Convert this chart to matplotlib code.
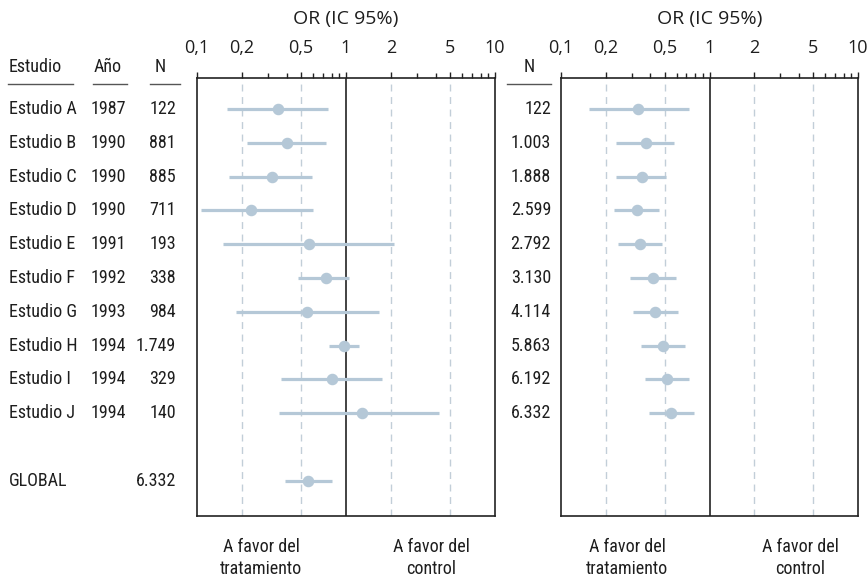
import matplotlib
matplotlib.use("Agg")
import matplotlib.pyplot as plt
import matplotlib.transforms as mtransforms
from matplotlib.lines import Line2D
from matplotlib.ticker import FixedLocator, NullFormatter, LogLocator
from matplotlib import font_manager as fm

# ---------------- data ----------------
studies = ["Estudio A", "Estudio B", "Estudio C", "Estudio D", "Estudio E",
           "Estudio F", "Estudio G", "Estudio H", "Estudio I", "Estudio J"]
years = ["1987", "1990", "1990", "1990", "1991", "1992", "1993", "1994", "1994", "1994"]
n_left = ["122", "881", "885", "711", "193", "338", "984", "1.749", "329", "140"]
or_left = [0.35, 0.40, 0.32, 0.23, 0.565, 0.73, 0.55, 0.97, 0.80, 1.29]
lo_left = [0.158, 0.218, 0.164, 0.106, 0.149, 0.474, 0.182, 0.773, 0.364, 0.357]
hi_left = [0.754, 0.734, 0.594, 0.604, 2.10, 1.05, 1.66, 1.23, 1.75, 4.19]

global_label = "GLOBAL"
global_n = "6.332"
global_or = 0.56
global_lo = 0.39
global_hi = 0.80

n_right = ["122", "1.003", "1.888", "2.599", "2.792", "3.130", "4.114", "5.863", "6.192", "6.332"]
or_right = [0.33, 0.372, 0.353, 0.323, 0.339, 0.417, 0.431, 0.486, 0.515, 0.551]
lo_right = [0.154, 0.236, 0.233, 0.229, 0.241, 0.293, 0.305, 0.344, 0.366, 0.390]
hi_right = [0.724, 0.579, 0.512, 0.459, 0.481, 0.592, 0.614, 0.687, 0.731, 0.787]

tick_vals = [0.1, 0.2, 0.5, 1, 2, 5, 10]
tick_labels = ["0,1", "0,2", "0,5", "1", "2", "5", "10"]
grid_vals = [0.2, 0.5, 2, 5]
axis_title = "OR (IC 95%)"
left_note = "A favor del\ntratamiento"
right_note = "A favor del\ncontrol"

# ---------------- fonts ----------------
def find_condensed():
    prefs = ['Liberation Sans Narrow', 'Roboto Condensed', 'Open Sans Condensed',
             'Noto Sans Condensed', 'DejaVu Sans Condensed', 'Arial Narrow']
    names = {f.name for f in fm.fontManager.ttflist}
    for p in prefs:
        if p in names:
            return fm.FontProperties(family=p)
    for f in fm.fontManager.ttflist:
        if f.style == 'normal' and f.weight in (400, 'normal', 'regular') and \
                ('condensed' in str(f.stretch).lower() or 'Narrow' in f.name or 'Condensed' in f.name):
            return fm.FontProperties(fname=f.fname)
    for f in fm.fontManager.ttflist:
        fn = f.fname.lower()
        if ('condensed' in fn or 'narrow' in fn) and 'bold' not in fn and 'italic' not in fn \
                and 'light' not in fn and 'semi' not in fn and 'extra' not in fn and 'oblique' not in fn:
            return fm.FontProperties(fname=f.fname)
    return None

COND = find_condensed()
COND_FOUND = COND is not None

W, H = 868, 581
TICKFONT = ['Open Sans', 'DejaVu Sans']
PT_COLOR = '#b5c8d7'
GRID_COLOR = '#c2ced8'
TXT = '#1e1e1e'
FS = 13 if COND_FOUND else 11.5

def rowtext(x, y, s, ha, tr):
    kw = dict(transform=tr, ha=ha, va='center', color=TXT)
    if COND_FOUND:
        fp = COND.copy()
        fp.set_size(FS)
        return fig.text(x, y, s, fontproperties=fp, **kw)
    return fig.text(x, y, s, fontsize=FS, family=['DejaVu Sans'], **kw)

fig = plt.figure(figsize=(W / 100, H / 100), dpi=100)

def px_rect(x0, x1, y0, y1):
    return [x0 / W, 1 - y1 / H, (x1 - x0) / W, (y1 - y0) / H]

YTOP, YBOT = -0.917, 12.04

def setup(ax):
    ax.set_xscale('log')
    ax.set_xlim(0.1, 10)
    ax.set_ylim(YBOT, YTOP)
    ax.xaxis.set_ticks_position('top')
    ax.xaxis.set_major_locator(FixedLocator(tick_vals))
    ax.xaxis.set_minor_locator(LogLocator(base=10, subs=range(2, 10)))
    ax.xaxis.set_minor_formatter(NullFormatter())
    ax.set_xticklabels(tick_labels)
    ax.tick_params(axis='x', which='both', direction='out', length=3.5, width=1,
                   pad=11, colors='#222222', labelcolor=TXT, labelsize=13)
    ax.tick_params(axis='x', which='major', length=4)
    for lab in ax.get_xticklabels():
        lab.set_family(TICKFONT)
    ax.set_yticks([])
    for s in ax.spines.values():
        s.set_color('#222222')
        s.set_linewidth(1.2)
    for g in grid_vals:
        ax.axvline(g, color=GRID_COLOR, lw=1.0, ls=(0, (5, 4)), zorder=1)
    ax.axvline(1, color='#222222', lw=1.2, zorder=2)
    tr = mtransforms.offset_copy(ax.transAxes, fig=fig, x=0, y=50, units='dots')
    ax.text(0.5, 1.0, axis_title, transform=tr, ha='center', va='bottom',
            fontsize=14, family=TICKFONT, color=TXT)

def draw(ax, ys, ors, los, his):
    for y, o, lo, hi in zip(ys, ors, los, his):
        ax.plot([lo, hi], [y, y], color=PT_COLOR, lw=2.3, solid_capstyle='butt', zorder=3)
        ax.plot([o], [y], 'o', color=PT_COLOR, ms=7.3, mec=PT_COLOR, zorder=4)

axL = fig.add_axes(px_rect(197, 495, 78, 516))
axR = fig.add_axes(px_rect(561, 858, 78, 516))
for ax in (axL, axR):
    setup(ax)

rows = list(range(len(studies)))
draw(axL, rows, or_left, lo_left, hi_left)
draw(axL, [11], [global_or], [global_lo], [global_hi])
draw(axR, rows, or_right, lo_right, hi_right)

# ---------------- text columns ----------------
trL = mtransforms.blended_transform_factory(fig.transFigure, axL.transData)
for i, (s, yv, n) in enumerate(zip(studies, years, n_left)):
    rowtext(9 / W, i, s, 'left', trL)
    rowtext(91 / W, i, yv, 'left', trL)
    rowtext(176 / W, i, n, 'right', trL)
rowtext(9 / W, 11, global_label, 'left', trL)
rowtext(176 / W, 11, global_n, 'right', trL)
for i, n in enumerate(n_right):
    rowtext(551 / W, i, n, 'right', trL)

# headers
hy = -1.24
rowtext(9 / W, hy, "Estudio", 'left', trL)
rowtext(94 / W, hy, "Año", 'left', trL)
rowtext(160 / W, hy, "N", 'center', trL)
rowtext(529 / W, hy, "N", 'center', trL)
uy = -0.74
for x0, x1 in [(8, 73), (93, 127), (150, 180), (507, 551)]:
    fig.add_artist(Line2D([x0 / W, x1 / W], [uy, uy], transform=trL, color='#555555', lw=1.0))

# bottom notes
by = 1 - 558 / H
for cx, txt in [(261, left_note), (431, right_note), (627, left_note), (800, right_note)]:
    t = rowtext(cx / W, 0, txt, 'center', fig.transFigure)
    t.set_position((cx / W, by))
    t.set_linespacing(1.3)

fig.savefig("out.png", dpi=100)
